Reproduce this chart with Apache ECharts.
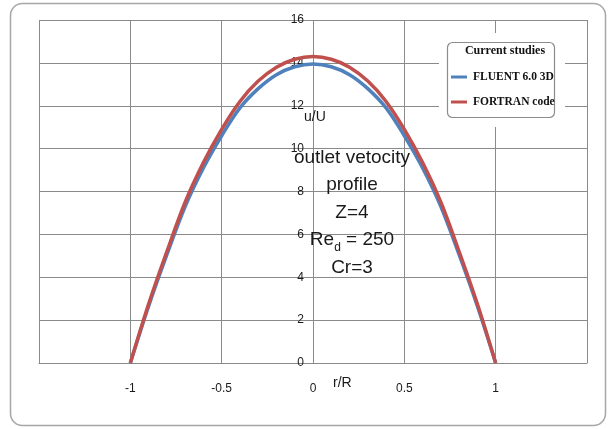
<!DOCTYPE html>
<html>
<head>
<meta charset="utf-8">
<script src="https://cdn.jsdelivr.net/npm/echarts@6/dist/echarts.min.js"></script>
<style>
  html, body { margin: 0; padding: 0; background: #fff; }
  #chart { width: 610px; height: 429px; }
</style>
</head>
<body>
<div id="chart"></div>
<script>
// Radial position r/R
const rR = [-1, -0.9, -0.8, -0.7, -0.6, -0.5, -0.4, -0.3, -0.2, -0.1, 0,
            0.1, 0.2, 0.3, 0.4, 0.5, 0.6, 0.7, 0.8, 0.9, 1];

// Axial velocity u/U, FLUENT 6.0 3D
const fluent = [0, 2.65, 5.05, 7.3, 9.1, 10.6, 11.9, 12.8, 13.45, 13.82, 13.95,
                13.82, 13.45, 12.8, 11.9, 10.6, 9.1, 7.3, 5.05, 2.65, 0];

// Axial velocity u/U, FORTRAN code
const fortran = [0, 2.75, 5.2, 7.5, 9.35, 10.9, 12.2, 13.15, 13.8, 14.17, 14.3,
                 14.17, 13.8, 13.15, 12.2, 10.9, 9.35, 7.5, 5.2, 2.75, 0];

const seriesNames = ['FLUENT 6.0 3D', 'FORTRAN code'];
const legendTitle = 'Current studies';
const noteLines = ['outlet vetocity', 'profile', 'Z=4', 'Re{sub|d} = 250', 'Cr=3'];

const pair = (xs, ys) => xs.map((x, i) => [x, ys[i]]);

const gridColor = '#8a8a8a';
const labelFont = 'Liberation Sans, Arial, sans-serif';
const serifFont = 'Liberation Serif, Times New Roman, serif';

const chart = echarts.init(document.getElementById('chart'), null, { renderer: 'canvas' });

chart.setOption({
  animation: false,
  backgroundColor: '#fff',
  grid: { left: 39, right: 23, top: 20, bottom: 66, containLabel: false },
  xAxis: {
    type: 'value',
    min: -1.5, max: 1.5, interval: 0.5,
    axisLine: { show: true, onZero: false, lineStyle: { color: gridColor, width: 1 } },
    axisTick: { show: false },
    splitLine: { show: true, lineStyle: { color: gridColor, width: 1 } },
    axisLabel: {
      showMinLabel: false, showMaxLabel: false,
      margin: 20, color: '#1a1a1a', fontSize: 12, fontFamily: labelFont
    }
  },
  yAxis: {
    type: 'value',
    min: 0, max: 16, interval: 2,
    // value labels sit beside r/R = 0, in the middle of the plot;
    // the vertical grid line at 0 serves as the axis line
    offset: -273,
    axisLine: { show: false },
    axisTick: { show: false },
    splitLine: { show: true, lineStyle: { color: gridColor, width: 1 } },
    axisLabel: { margin: 8, color: '#1a1a1a', fontSize: 12, fontFamily: labelFont }
  },
  legend: {
    orient: 'vertical',
    left: 446, top: 66,
    itemWidth: 16, itemHeight: 3, itemGap: 13,
    icon: 'rect',
    z: 20,
    textStyle: { fontFamily: serifFont, fontWeight: 'bold', fontSize: 11.5, color: '#111', padding: [0, 0, 0, 1] },
    data: seriesNames
  },
  series: [
    {
      name: seriesNames[0], type: 'line', data: pair(rR, fluent),
      smooth: 0.35, symbol: 'none', z: 3,
      lineStyle: { color: '#4f81bd', width: 3.5 }, itemStyle: { color: '#4f81bd' }
    },
    {
      name: seriesNames[1], type: 'line', data: pair(rR, fortran),
      smooth: 0.35, symbol: 'none', z: 4,
      lineStyle: { color: '#c0504d', width: 3.5 }, itemStyle: { color: '#c0504d' }
    }
  ],
  graphic: [
    // outer frame
    { type: 'rect', z: 0, silent: true,
      shape: { x: 10.5, y: 3.5, width: 595, height: 422, r: 12 },
      style: { fill: 'none', stroke: '#a6a6a6', lineWidth: 1.5 } },
    // legend panel
    { type: 'rect', z: 15, silent: true,
      shape: { x: 439, y: 33, width: 126, height: 94 },
      style: { fill: '#fff' } },
    { type: 'rect', z: 16, silent: true,
      shape: { x: 447.5, y: 42.5, width: 107, height: 75, r: 5 },
      style: { fill: '#fff', stroke: '#8c8c8c', lineWidth: 1.2 } },
    { type: 'text', z: 17, silent: true, x: 505, y: 51,
      style: { text: legendTitle, font: 'bold 12px ' + serifFont, fill: '#111',
               align: 'center', verticalAlign: 'middle' } },
    // axis titles
    { type: 'text', z: 10, silent: true, x: 304, y: 117,
      style: { text: 'u/U', font: '14px ' + labelFont, fill: '#1a1a1a', verticalAlign: 'middle' } },
    { type: 'text', z: 10, silent: true, x: 333, y: 383,
      style: { text: 'r/R', font: '14px ' + labelFont, fill: '#1a1a1a', verticalAlign: 'middle' } },
    // flow description
    { type: 'text', z: 10, silent: true, x: 352, y: 144,
      style: {
        text: noteLines.join('\n'),
        font: '19px ' + labelFont, fill: '#1a1a1a',
        align: 'center', lineHeight: 27.5,
        rich: {
          sub: { fontSize: 12, fontFamily: labelFont, fill: '#1a1a1a', verticalAlign: 'bottom', padding: [8, 0, 0, 0] }
        }
      } }
  ]
});
</script>
</body>
</html>
